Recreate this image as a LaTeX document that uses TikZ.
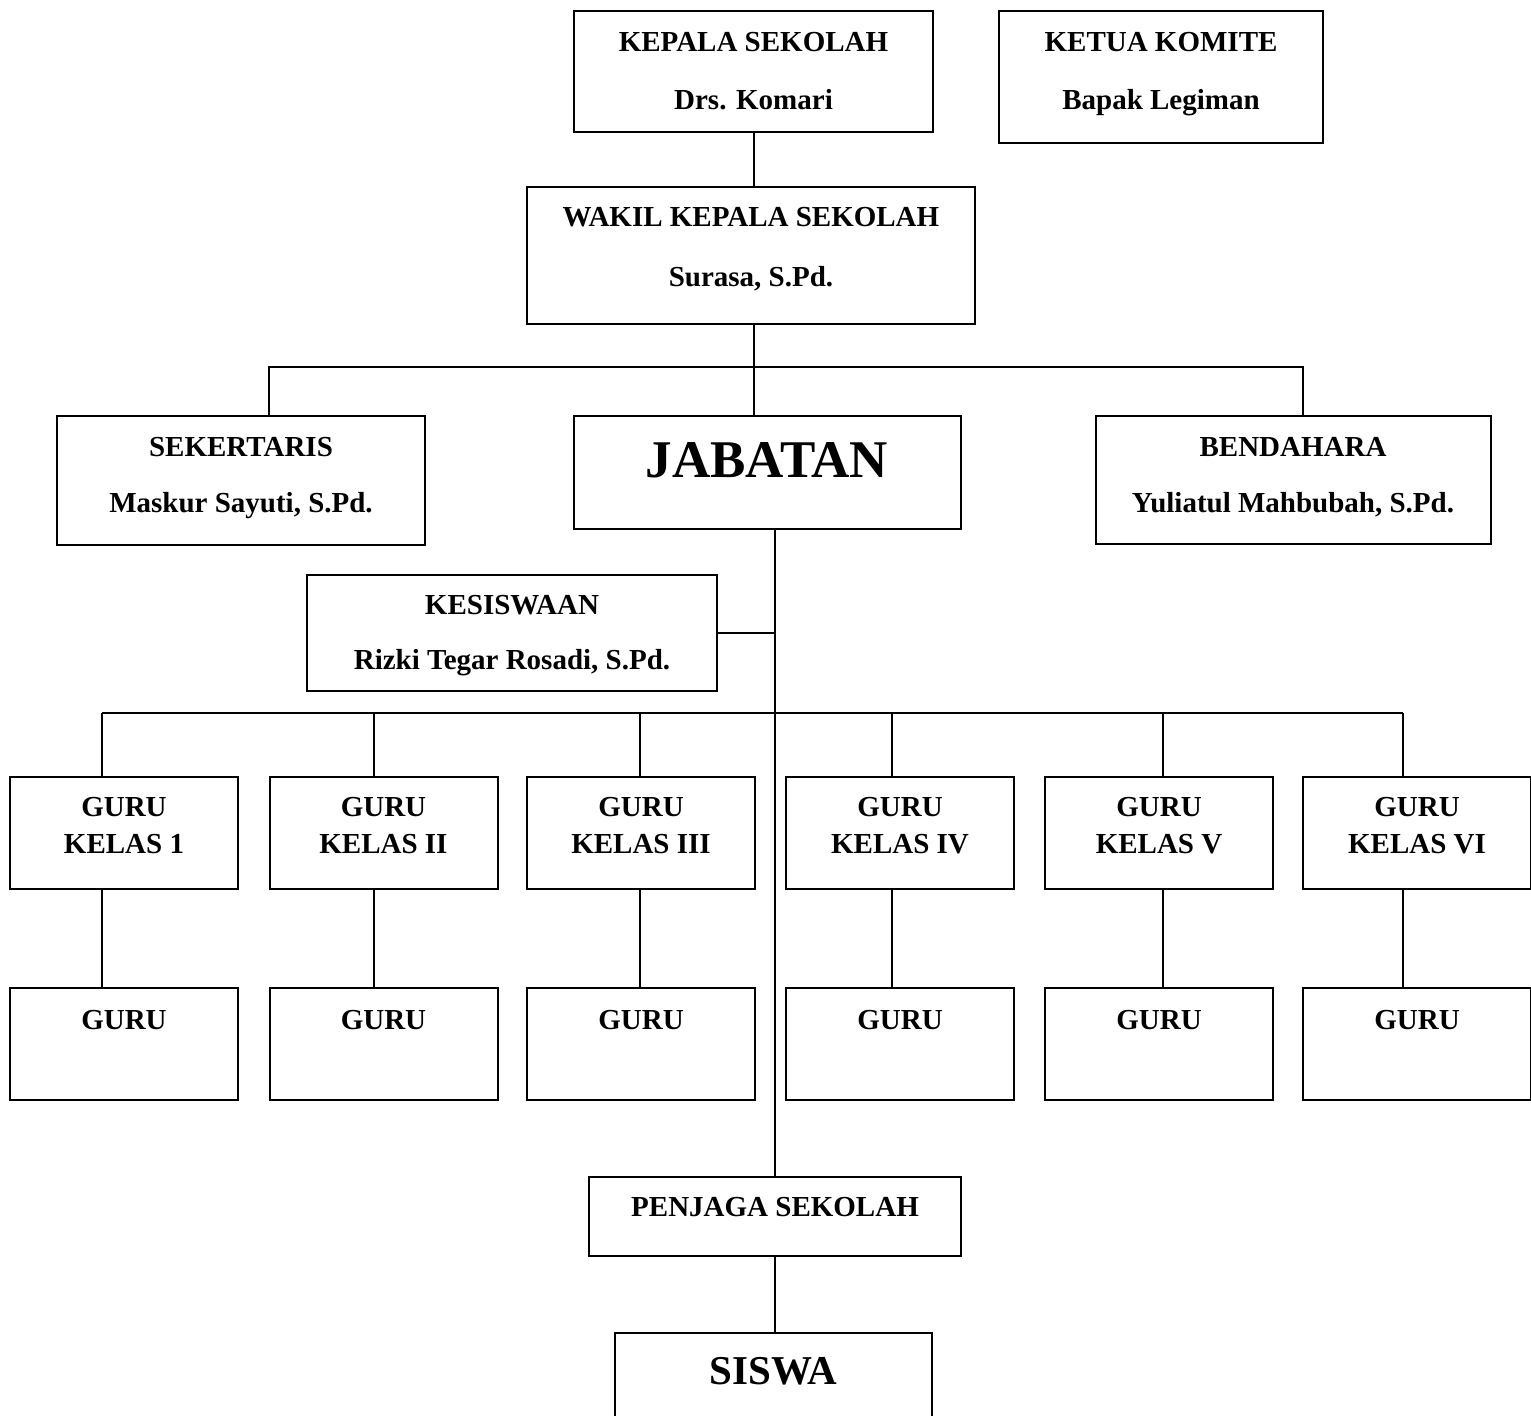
\documentclass[tikz,border=0pt]{standalone}
\usepackage{fontspec}
\setmainfont{Liberation Serif}
\begin{document}
\begin{tikzpicture}[x=0.5pt,y=-0.5pt,line width=1pt,
  box/.style={draw,inner sep=0pt},
  txt/.style={font=\fontsize{14.5}{18.5}\selectfont\bfseries,align=center,inner sep=0pt,anchor=north}]
\clip (0,0) rectangle (1531,1416);
% kotak atas
\node[box,minimum width=179.5pt,minimum height=60.5pt] (kepsek) at (753.5,71.5) {};
\node[box,minimum width=162pt,minimum height=66pt] (ketua) at (1161,77) {};
\node[box,minimum width=224pt,minimum height=68.5pt] (wakil) at (751,255.5) {};
\node[box,minimum width=184pt,minimum height=64.5pt] (sek) at (241,480.5) {};
\node[box,minimum width=193.5pt,minimum height=56.5pt] (jab) at (767.5,472.5) {};
\node[box,minimum width=197.5pt,minimum height=64pt] (bend) at (1293,480) {};
\node[box,minimum width=205pt,minimum height=58pt] (kes) at (512,633) {};
% guru kelas
\node[box,minimum width=114pt,minimum height=56pt] (gk1) at (124,833) {};
\node[box,minimum width=114pt,minimum height=56pt] (gk2) at (383.5,833) {};
\node[box,minimum width=114pt,minimum height=56pt] (gk3) at (641,833) {};
\node[box,minimum width=114pt,minimum height=56pt] (gk4) at (900,833) {};
\node[box,minimum width=114pt,minimum height=56pt] (gk5) at (1159,833) {};
\node[box,minimum width=114pt,minimum height=56pt] (gk6) at (1417,833) {};
\node[box,minimum width=114pt,minimum height=56pt] (g1) at (124,1044) {};
\node[box,minimum width=114pt,minimum height=56pt] (g2) at (383.5,1044) {};
\node[box,minimum width=114pt,minimum height=56pt] (g3) at (641,1044) {};
\node[box,minimum width=114pt,minimum height=56pt] (g4) at (900,1044) {};
\node[box,minimum width=114pt,minimum height=56pt] (g5) at (1159,1044) {};
\node[box,minimum width=114pt,minimum height=56pt] (g6) at (1417,1044) {};
% bawah
\node[box,minimum width=186pt,minimum height=39.5pt] (penjaga) at (775,1216.5) {};
\node[box,minimum width=158.5pt,minimum height=56pt] (siswa) at (773.5,1389) {};
% teks
\node[txt] (kepsekT) at (753.5,31) {KEPALA SEKOLAH\\[10.5pt]Drs. Komari};
\node[txt] (ketuaT) at (1161,31) {KETUA KOMITE\\[10.5pt]Bapak Legiman};
\node[txt] (wakilT) at (751,206) {WAKIL KEPALA SEKOLAH\\[11.5pt]Surasa, S.Pd.};
\node[txt] (sekT) at (241,436) {SEKERTARIS\\[9.5pt]Maskur Sayuti, S.Pd.};
\node[txt,font=\fontsize{26.5}{30}\selectfont\bfseries] (jabT) at (767,442) {JABATAN};
\node[txt] (bendT) at (1293,436) {BENDAHARA\\[9.5pt]Yuliatul Mahbubah, S.Pd.};
\node[txt] (kesT) at (512,594) {KESISWAAN\\[9pt]Rizki Tegar Rosadi, S.Pd.};
\node[txt] (gk1T) at (124,796) {GURU\\KELAS 1};
\node[txt] (gk2T) at (383.5,796) {GURU\\KELAS II};
\node[txt] (gk3T) at (641,796) {GURU\\KELAS III};
\node[txt] (gk4T) at (900,796) {GURU\\KELAS IV};
\node[txt] (gk5T) at (1159,796) {GURU\\KELAS V};
\node[txt] (gk6T) at (1417,796) {GURU\\KELAS VI};
\node[txt] (g1T) at (124,1009) {GURU};
\node[txt] (g2T) at (383.5,1009) {GURU};
\node[txt] (g3T) at (641,1009) {GURU};
\node[txt] (g4T) at (900,1009) {GURU};
\node[txt] (g5T) at (1159,1009) {GURU};
\node[txt] (g6T) at (1417,1009) {GURU};
\node[txt] (penjagaT) at (775,1196) {PENJAGA SEKOLAH};
\node[txt,font=\fontsize{20.5}{24}\selectfont\bfseries] (siswaT) at (773.5,1356) {SISWA};
% garis
\coordinate (busA) at (754,367);
\coordinate (sekDrop) at (269,367);
\coordinate (bendDrop) at (1303,367);
\draw (kepsek.south) -- (kepsek.south |- wakil.north);
\draw (busA |- wakil.south) -- (busA |- jab.north);
\draw (sekDrop |- sek.north) -- (sekDrop) -- (bendDrop) -- (bendDrop |- bend.north);
\draw (penjaga.north |- jab.south) -- (penjaga.north);
\draw (kes.east) -- (kes.east -| penjaga.north);
\draw (penjaga.south) -- (penjaga.south |- siswa.north);
\coordinate (d1) at (102,713);
\coordinate (d2) at (374,713);
\coordinate (d3) at (640,713);
\coordinate (d4) at (892,713);
\coordinate (d5) at (1163,713);
\coordinate (d6) at (1403,713);
\draw (d1) -- (d6);
\draw (d1) -- (d1 |- gk1.north) (d1 |- gk1.south) -- (d1 |- g1.north);
\draw (d2) -- (d2 |- gk2.north) (d2 |- gk2.south) -- (d2 |- g2.north);
\draw (d3) -- (d3 |- gk3.north) (d3 |- gk3.south) -- (d3 |- g3.north);
\draw (d4) -- (d4 |- gk4.north) (d4 |- gk4.south) -- (d4 |- g4.north);
\draw (d5) -- (d5 |- gk5.north) (d5 |- gk5.south) -- (d5 |- g5.north);
\draw (d6) -- (d6 |- gk6.north) (d6 |- gk6.south) -- (d6 |- g6.north);
\end{tikzpicture}
\end{document}
